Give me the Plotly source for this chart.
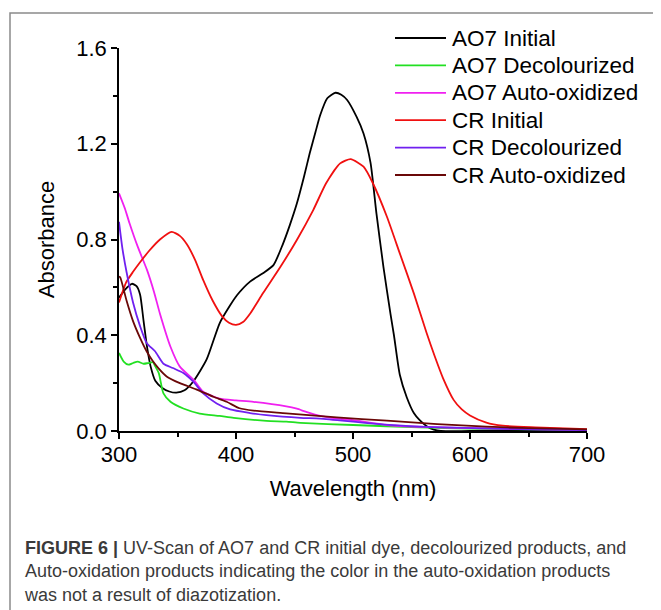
import plotly.graph_objects as go

# ---------------- data ----------------
ao7_initial_wl = [300, 305, 311, 315, 318, 321, 324, 327, 331, 337, 343, 349, 356, 364, 375, 386, 395, 401,
                  412, 423, 432, 440, 446, 452, 458, 463, 468, 472, 478, 485, 490, 495, 503, 509, 515, 520,
                  526, 532, 535, 540, 546, 552, 557, 563, 569, 575, 600, 650, 700]
ao7_initial_abs = [0.557, 0.59, 0.615, 0.605, 0.57, 0.46, 0.35, 0.27, 0.21, 0.18, 0.165, 0.16, 0.17, 0.21,
                   0.30, 0.45, 0.525, 0.568, 0.624, 0.659, 0.693, 0.78, 0.86, 0.95, 1.06, 1.16, 1.25, 1.32,
                   1.39, 1.413, 1.405, 1.383, 1.313, 1.243, 1.12, 0.91, 0.686, 0.49, 0.40, 0.235, 0.14,
                   0.075, 0.045, 0.02, 0.006, 0.0, 0.0, 0.0, 0.0]

ao7_decol_wl = [300, 304, 308, 312, 316, 321, 325, 329, 331, 334, 338, 344, 355, 369, 386, 398, 426, 443,
                455, 500, 557, 600, 650, 700]
ao7_decol_abs = [0.326, 0.29, 0.277, 0.284, 0.29, 0.281, 0.284, 0.287, 0.27, 0.242, 0.157, 0.122, 0.094,
                 0.073, 0.063, 0.055, 0.042, 0.039, 0.034, 0.025, 0.015, 0.010, 0.007, 0.005]

ao7_auto_wl = [300, 305, 309, 316, 324, 330, 335, 344, 352, 364, 372, 386, 400, 415, 443, 452, 460, 472,
               480, 500, 529, 560, 600, 650, 700]
ao7_auto_abs = [0.993, 0.93, 0.868, 0.77, 0.672, 0.58, 0.49, 0.352, 0.269, 0.213, 0.164, 0.135, 0.128,
                0.122, 0.103, 0.093, 0.08, 0.063, 0.056, 0.045, 0.025, 0.017, 0.012, 0.008, 0.005]

cr_initial_wl = [300, 306, 312, 318, 326, 335, 345, 352, 358, 365, 372, 380, 388, 394, 400, 406, 412, 423,
                 438, 452, 466, 477, 489, 498, 509, 517, 529, 540, 552, 563, 570, 577, 586, 593, 600, 614,
                 628, 656, 700]
cr_initial_abs = [0.537, 0.62, 0.665, 0.705, 0.754, 0.80, 0.832, 0.815, 0.78, 0.715, 0.63, 0.545, 0.48,
                  0.452, 0.443, 0.455, 0.49, 0.575, 0.686, 0.798, 0.923, 1.035, 1.118, 1.136, 1.104, 1.035,
                  0.895, 0.742, 0.575, 0.408, 0.31, 0.22, 0.13, 0.09, 0.065, 0.035, 0.022, 0.015, 0.008]

cr_decol_wl = [300, 303, 306.5, 312, 318, 323.6, 330.8, 338, 346, 355, 363.5, 372, 383.5, 395, 412, 426,
               455, 472, 515, 557, 614, 650, 700]
cr_decol_abs = [0.874, 0.76, 0.663, 0.537, 0.438, 0.368, 0.333, 0.281, 0.263, 0.242, 0.206, 0.157, 0.115,
                0.09, 0.075, 0.066, 0.055, 0.052, 0.032, 0.018, 0.011, 0.007, 0.004]

cr_auto_wl = [300, 301, 306.5, 312, 318, 323.6, 329, 333.6, 340.7, 352, 366, 380.6, 392, 403, 415, 443,
              486, 529, 572, 614, 650, 700]
cr_auto_abs = [0.645, 0.642, 0.544, 0.459, 0.389, 0.333, 0.291, 0.263, 0.228, 0.2, 0.174, 0.143, 0.122,
               0.095, 0.085, 0.074, 0.057, 0.043, 0.029, 0.018, 0.012, 0.007]

series_names = ["AO7 Initial", "AO7 Decolourized", "AO7 Auto-oxidized",
                "CR Initial", "CR Decolourized", "CR Auto-oxidized"]
series_colors = ["#000000", "#22e022", "#f020f0", "#f01010", "#7020f0", "#6a0808"]

x_tick_vals = [300, 400, 500, 600, 700]
y_tick_vals = [0.0, 0.4, 0.8, 1.2, 1.6]

caption = ("<b>FIGURE 6 |</b> UV-Scan of AO7 and CR initial dye, decolourized products, and<br>"
           "Auto-oxidation products indicating the color in the auto-oxidation products<br>"
           "was not a result of diazotization.")

# ---------------- layout geometry (pixels, page has an 8px body margin) ----------------
OFF = 8
W, H = 661 - OFF, 610 - OFF
L, R, T, B = 119 - OFF, 74, 48 - OFF, 179
PW, PH = W - L - R, H - T - B


def px_x(px):
    return (px - OFF - L) / PW


def px_y(py):
    return (H - B - (py - OFF)) / PH


FONT = "Liberation Sans, Arial, sans-serif"

fig = go.Figure()
all_data = [(ao7_initial_wl, ao7_initial_abs), (ao7_decol_wl, ao7_decol_abs), (ao7_auto_wl, ao7_auto_abs),
            (cr_initial_wl, cr_initial_abs), (cr_decol_wl, cr_decol_abs), (cr_auto_wl, cr_auto_abs)]
for (xs, ys), name, col in zip(all_data, series_names, series_colors):
    fig.add_trace(go.Scatter(x=xs, y=ys, mode="lines", name=name,
                             line=dict(color=col, width=1.8, shape="spline", smoothing=0.6),
                             showlegend=False))

shapes = []
annotations = []
# custom legend (long line samples, tight rows like the original)
leg_y0, leg_dy = 38, 27.4
for i, (name, col) in enumerate(zip(series_names, series_colors)):
    yy = px_y(leg_y0 + i * leg_dy)
    shapes.append(dict(type="line", xref="paper", yref="paper", x0=px_x(395), x1=px_x(446), y0=yy, y1=yy,
                       line=dict(color=col, width=1.8)))
    annotations.append(dict(text=name, xref="paper", yref="paper", x=px_x(450), y=yy, xanchor="left",
                            yanchor="middle", showarrow=False,
                            font=dict(family=FONT, size=22.5, color="#000")))

# figure frame (left and top border)
shapes.append(dict(type="path", xref="paper", yref="paper",
                   path=f"M {px_x(10)},{px_y(620)} L {px_x(10)},{px_y(13)} L {px_x(670)},{px_y(13)}",
                   line=dict(color="#8a8a8a", width=1.5)))

annotations.append(dict(text=caption, xref="paper", yref="paper", x=px_x(22), y=px_y(536),
                        xanchor="left", yanchor="top", align="left", showarrow=False,
                        font=dict(family=FONT, size=18, color="#3a3a3a")))

fig.update_layout(
    width=W, height=H,
    margin=dict(l=L, r=R, t=T, b=B, pad=0),
    paper_bgcolor="white", plot_bgcolor="white",
    font=dict(family=FONT, size=22, color="#000"),
    shapes=shapes, annotations=annotations,
    showlegend=False,
)
fig.update_xaxes(range=[300, 700], tickvals=x_tick_vals, ticks="outside", ticklen=6, tickwidth=1.5,
                 tickcolor="#000", showline=True, linecolor="#000", linewidth=1.5, showgrid=False,
                 zeroline=False, tickfont=dict(size=22), ticklabelstandoff=-3,
                 minor=dict(tickvals=[350, 450, 550, 650], ticks="outside", ticklen=4, tickwidth=1.5,
                            tickcolor="#000", showgrid=False),
                 title=dict(text="Wavelength (nm)", font=dict(size=22), standoff=14))
fig.update_yaxes(range=[0, 1.6], tickvals=y_tick_vals, tickformat=".1f", ticks="outside", ticklen=6,
                 tickwidth=1.5, tickcolor="#000", showline=True, linecolor="#000", linewidth=1.5,
                 showgrid=False, zeroline=False, tickfont=dict(size=22),
                 minor=dict(tickvals=[0.2, 0.6, 1.0, 1.4], ticks="outside", ticklen=4, tickwidth=1.5,
                            tickcolor="#000", showgrid=False),
                 title=dict(text="Absorbance", font=dict(size=22), standoff=16))

fig.write_html("out.html")
